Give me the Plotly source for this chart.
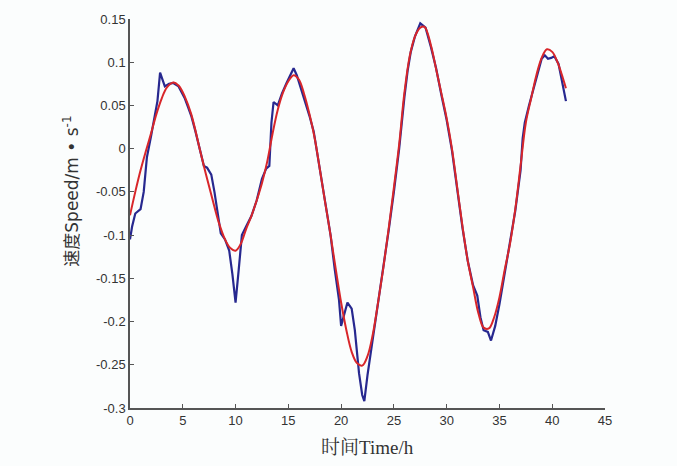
import plotly.graph_objects as go

# Fitted (red) curve
fit_t = [0, 0.5, 1.0, 1.5, 2.0, 2.5, 3.0, 3.5, 4.1, 4.6, 5.2, 5.8, 6.6, 7.2, 7.8, 8.4, 9.0, 9.5, 10.0,
         10.5, 11.0, 11.5, 12.0, 12.5, 13.0, 13.5, 14.0, 14.5, 15.0, 15.5, 16.0, 16.5, 17.0, 17.5,
         18.0, 18.5, 19.0, 19.5, 20.0, 20.5, 21.0, 21.5, 22.0, 22.5, 23.0, 23.5, 24.0, 24.5, 25.0,
         25.5, 26.0, 26.5, 27.0, 27.5, 27.9, 28.5, 29.0, 29.5, 30.0, 30.5, 31.0, 31.5, 32.0, 32.5,
         33.0, 33.5, 34.0, 34.5, 35.0, 35.5, 36.0, 36.5, 37.0, 37.5, 38.0, 38.5, 39.0, 39.5, 40.0,
         40.5, 41.0, 41.3]
fit_v = [-0.077, -0.05, -0.025, -0.003, 0.018, 0.04, 0.058, 0.071, 0.0766, 0.073, 0.06, 0.04, 0.0,
         -0.03, -0.058, -0.085, -0.105, -0.115, -0.118, -0.110, -0.093, -0.078, -0.06, -0.04,
         -0.015, 0.017, 0.045, 0.065, 0.078, 0.085, 0.08, 0.063, 0.04, 0.012, -0.025, -0.063,
         -0.1, -0.14, -0.178, -0.21, -0.235, -0.248, -0.251, -0.24, -0.215, -0.178, -0.138,
         -0.093, -0.045, 0.005, 0.065, 0.107, 0.13, 0.14, 0.141, 0.12, 0.092, 0.064, 0.035, 0.0,
         -0.045, -0.09, -0.13, -0.16, -0.19, -0.207, -0.208, -0.195, -0.172, -0.14, -0.11, -0.07,
         -0.02, 0.03, 0.058, 0.085, 0.105, 0.115, 0.112, 0.1, 0.082, 0.07]

# Measured (blue) curve
meas_t = [0, 0.2, 0.5, 1.0, 1.3, 1.6, 2.0, 2.4, 2.6, 2.85, 3.1, 3.3, 3.7, 4.1, 4.6, 5.2, 5.5, 5.8,
          6.2, 6.6, 7.0, 7.3, 7.7, 8.0, 8.3, 8.6, 9.0, 9.4, 9.7, 10.0, 10.3, 10.6, 11.0, 11.5, 12.0,
          12.5, 12.9, 13.2, 13.4, 13.6, 14.0, 14.4, 14.8, 15.2, 15.5, 15.8, 16.2, 16.7, 17.0, 17.4,
          17.8, 18.2, 18.6, 19.0, 19.4, 19.8, 20.0, 20.3, 20.6, 21.0, 21.3, 21.7, 22.0, 22.2, 22.5,
          23.0, 23.5, 24.0, 24.5, 25.0, 25.5, 26.0, 26.3, 26.6, 27.0, 27.5, 28.0, 28.5, 29.0, 29.5,
          30.0, 30.5, 31.0, 31.5, 32.0, 32.5, 32.9, 33.2, 33.5, 33.9, 34.2, 34.6, 35.0, 35.5, 36.0,
          36.5, 37.0, 37.2, 37.4, 37.8, 38.2, 38.6, 39.0, 39.3, 39.6, 39.9, 40.2, 40.6, 41.0, 41.3]
meas_v = [-0.105, -0.09, -0.075, -0.07, -0.05, -0.01, 0.015, 0.04, 0.055, 0.088, 0.08, 0.072,
          0.075, 0.076, 0.072, 0.058, 0.048, 0.038, 0.02, -0.002, -0.02, -0.022, -0.03, -0.05,
          -0.075, -0.098, -0.105, -0.118, -0.145, -0.178, -0.14, -0.1, -0.09, -0.078, -0.06,
          -0.035, -0.023, -0.02, 0.03, 0.054, 0.05, 0.064, 0.075, 0.085, 0.093, 0.085, 0.07,
          0.052, 0.038, 0.02, -0.01, -0.045, -0.075, -0.1, -0.14, -0.175, -0.205, -0.19, -0.178,
          -0.185, -0.21, -0.26, -0.285, -0.292, -0.262, -0.22, -0.18, -0.14, -0.095, -0.05,
          0.0, 0.06, 0.09, 0.112, 0.13, 0.145, 0.14, 0.118, 0.093, 0.062, 0.033, -0.002, -0.048,
          -0.092, -0.13, -0.158, -0.17, -0.195, -0.21, -0.212, -0.222, -0.205, -0.18, -0.142,
          -0.108, -0.072, -0.025, 0.012, 0.03, 0.05, 0.068, 0.088, 0.104, 0.108, 0.104, 0.105,
          0.107, 0.098, 0.075, 0.055]

x_ticks = [0, 5, 10, 15, 20, 25, 30, 35, 40, 45]
y_ticks = [0.15, 0.1, 0.05, 0, -0.05, -0.1, -0.15, -0.2, -0.25, -0.3]
y_tick_text = ["0.15", "0.1", "0.05", "0", "-0.05", "-0.1", "-0.15", "-0.2", "-0.25", "-0.3"]

x_title = "时间Time/h"
y_title = "速度Speed/m • s<sup>-1</sup>"

fig = go.Figure()
fig.add_trace(go.Scatter(x=meas_t, y=meas_v, mode="lines",
                         line=dict(color="#27288f", width=2.2), showlegend=False))
fig.add_trace(go.Scatter(x=fit_t, y=fit_v, mode="lines", line_shape="spline",
                         line=dict(color="#d8262a", width=2.0), showlegend=False))

axis_font = dict(family="Liberation Sans, Arial, sans-serif", size=13, color="#333")
fig.update_layout(
    width=677, height=466,
    margin=dict(l=130, r=72, t=16, b=58),
    paper_bgcolor="#fbfdfd", plot_bgcolor="#fbfdfd",
    xaxis=dict(range=[0, 45], tickvals=x_ticks, ticks="inside", ticklen=4, tickcolor="#555",
               showline=True, linecolor="#555", linewidth=1.5, showgrid=False, zeroline=False,
               tickfont=axis_font),
    yaxis=dict(range=[-0.3, 0.15], tickvals=y_ticks, ticktext=y_tick_text, ticks="inside",
               ticklen=4, tickcolor="#555", showline=True, linecolor="#555", linewidth=1.5,
               showgrid=False, zeroline=False, tickfont=axis_font),
    annotations=[
        dict(text=x_title, xref="paper", yref="paper", x=0.5, y=-40 / 392,
             xanchor="center", yanchor="middle", showarrow=False,
             font=dict(family="Liberation Serif, Noto Serif CJK SC, Noto Sans CJK SC", size=19, color="#333")),
        dict(text=y_title, xref="paper", yref="paper", x=-59 / 475, y=218 / 392,
             xanchor="center", yanchor="middle", showarrow=False, textangle=-90,
             font=dict(family="DejaVu Sans, Noto Sans CJK SC", size=17, color="#333")),
    ],
)

fig.write_html("out.html")
